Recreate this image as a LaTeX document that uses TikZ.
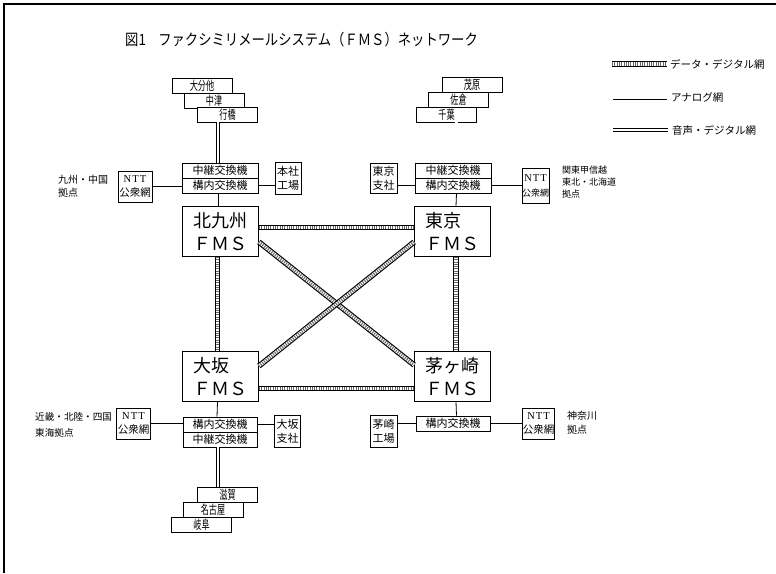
\documentclass[tikz,border=0pt]{standalone}
\usepackage{fontspec}
\setmainfont{Noto Sans CJK JP}
\newfontfamily\narrowjp[FakeStretch=0.65]{Noto Sans CJK JP}
\newfontfamily\titlejp[FakeStretch=0.86]{Noto Sans CJK JP}
\newfontfamily\nttfont[LetterSpace=10]{Liberation Serif}
\usetikzlibrary{calc}
\tikzset{
  frameline/.style={line width=1.2pt},
  box/.style={draw, line width=0.8pt, fill=white, inner sep=0pt, align=center},
  fms/.style={box, minimum width=76pt, minimum height=50pt, align=left, font=\fontsize{18}{23}\selectfont},
  sw/.style={box, minimum width=76pt, minimum height=15pt, font=\fontsize{11}{13}\selectfont},
  stackbox/.style={box, minimum width=60pt, minimum height=15pt, font=\narrowjp\fontsize{12.5}{13}\selectfont},
  sidebox/.style={box, minimum width=26pt, minimum height=32pt, font=\fontsize{11}{14}\selectfont},
  nttbox/.style={box, minimum width=34pt, minimum height=31pt, font=\fontsize{10.5}{14}\selectfont},
  lbl/.style={anchor=west, inner sep=0pt, align=left},
  legtext/.style={anchor=west, inner sep=0pt, font=\fontsize{10.5}{12}\selectfont},
  datalink/.style={line width=5.5pt, draw=black,
     postaction={draw=white, line width=3.2pt},
     postaction={draw=black!60, line width=3.2pt, dash pattern=on 1pt off 1.3pt}},
  analog/.style={line width=0.8pt},
  voice/.style={double, double distance=2.2pt, line width=0.7pt},
}
\begin{document}
\begin{tikzpicture}[x=1pt,y=-1pt]
\useasboundingbox (0,0) rectangle (776,573);
\draw[frameline] (4,573) -- (4,4) -- (776,4);

% title
\node[anchor=west, inner sep=0pt, font=\titlejp\fontsize{15.5}{17}\selectfont] (title) at (125,40)
  {図1\hspace{0.8em}ファクシミリメールシステム（ＦＭＳ）ネットワーク};

% legend
\coordinate (la1) at (612,64); \coordinate (la2) at (667,64);
\draw[datalink] (la1) -- (la2);
\node[legtext] (lta) at (670,64) {データ・デジタル網};
\coordinate (lb1) at (613,99); \coordinate (lb2) at (667,99);
\draw[analog] (lb1) -- (lb2);
\node[legtext] (ltb) at (671,98) {アナログ網};
\coordinate (lc1) at (613,130); \coordinate (lc2) at (668,130);
\draw[voice] (lc1) -- (lc2);
\node[legtext] (ltc) at (672,130) {音声・デジタル網};

% FMS boxes
\node[fms] (kk) at (220.5,231.5) {北九州\\ＦＭＳ};
\node[fms] (tk) at (452.5,231.5) {東京\\ＦＭＳ};
\node[fms] (os) at (220.5,376.5) {大坂\\ＦＭＳ};
\node[fms] (ck) at (452.5,376.5) {茅ヶ崎\\ＦＭＳ};

% data links
\draw[datalink] ([yshift=4pt]kk.east) -- ([yshift=4pt]tk.west);
\draw[datalink] ([yshift=-12pt]os.east) -- ([yshift=-12pt]ck.west);
\draw[datalink] ([xshift=-3pt]kk.south) -- ([xshift=-3pt]os.north);
\draw[datalink] ([xshift=3.5pt]tk.south) -- ([xshift=3.5pt]ck.north);
\draw[datalink] ([yshift=-10.5pt]kk.east) -- ([yshift=11.5pt]ck.west);
\draw[datalink] ([yshift=-10.5pt]tk.west) -- ([yshift=10.5pt]os.east);

% ---- top-left (Kitakyushu)
\node[sw] (kchu) at (220,170.5) {中継交換機};
\node[sw] (kkou) at (220,185.5) {構内交換機};
\node[stackbox] (k1) at (202,85.5) {大分他};
\node[stackbox] (k2) at (214,100.5) {中津};
\node[stackbox] (k3) at (227.5,114.5) {行橋};
\node[nttbox] (knt) at (135,186.5) {{\nttfont NTT}\\公衆網};
\node[sidebox] (khon) at (288,178) {本社\\工場};
\node[lbl, font=\fontsize{10}{13}\selectfont] (klab) at (58,186.5) {九州・中国\\拠点};
\draw[voice] ([xshift=-2pt]kchu.north) -- ([xshift=-2pt]kchu.north |- k3.south);
\draw[analog] ([xshift=-2pt]kkou.south) -- ([xshift=-2pt]kk.north -| kkou.south);
\draw[analog] (knt.east) -- (knt.east -| kkou.west);
\draw[analog] (kkou.east) -- (kkou.east -| khon.west);

% ---- top-right (Tokyo)
\node[sw] (tchu) at (453,170.5) {中継交換機};
\node[sw] (tkou) at (453,185.5) {構内交換機};
\node[stackbox] (t1) at (472,84.5) {茂原};
\node[stackbox] (t2) at (458.5,99.5) {佐倉};
\node[stackbox] (t3) at (446.5,114.5) {千葉};
\node[sidebox, minimum width=27pt, minimum height=30pt] (tsha) at (383.5,178) {東京\\支社};
\node[nttbox, minimum width=27pt, minimum height=35pt, font=\fontsize{9}{15}\selectfont] (tnt) at (535.5,185.5) {{\nttfont\fontsize{10.5}{12}\selectfont NTT}\\公衆網};
\node[lbl, font=\fontsize{9}{12}\selectfont] (tlab) at (562,182) {関東甲信越\\東北・北海道\\拠点};
\draw[voice] ([xshift=3.5pt]tchu.north) -- ([xshift=3.5pt]tchu.north |- t3.south);
\draw[analog] ([xshift=3.5pt]tkou.south) -- ([xshift=3.5pt]tk.north);
\draw[analog] (tsha.east |- tkou.west) -- (tkou.west);
\draw[analog] (tkou.east) -- (tkou.east -| tnt.west);

% ---- bottom-left (Osaka)
\node[sw, minimum width=74pt] (okou) at (220,424.5) {構内交換機};
\node[sw, minimum width=74pt] (ochu) at (220,439.5) {中継交換機};
\node[sidebox] (osha) at (287.5,431) {大坂\\支社};
\node[nttbox] (ont) at (133.5,423.5) {{\nttfont NTT}\\公衆網};
\node[lbl, font=\fontsize{9.6}{16}\selectfont] (olab) at (35,424.5) {近畿・北陸・四国\\東海拠点};
\node[stackbox] (o1) at (227.5,495) {滋賀};
\node[stackbox] (o2) at (213,510) {名古屋};
\node[stackbox] (o3) at (201.5,524.5) {岐阜};
\draw[analog] ([xshift=-3pt]os.south) -- ([xshift=-3pt]okou.north);
\draw[analog] (ont.east) -- (ont.east -| okou.west);
\draw[analog] (okou.east) -- (okou.east -| osha.west);
\draw[voice] ([xshift=-2pt]ochu.south) -- ([xshift=-2pt]ochu.south |- o1.north);

% ---- bottom-right (Chigasaki)
\node[sw, minimum width=74pt] (ckou) at (453,423.5) {構内交換機};
\node[sidebox, minimum width=27pt] (cfac) at (383.5,431) {茅崎\\工場};
\node[nttbox, minimum width=31pt] (cnt) at (538.5,423.5) {{\nttfont NTT}\\公衆網};
\node[lbl, font=\fontsize{10}{14}\selectfont] (clab) at (567,423) {神奈川\\拠点};
\draw[analog] ([xshift=3.5pt]ck.south) -- ([xshift=3.5pt]ckou.north);
\draw[analog] (cfac.east |- ckou.west) -- (ckou.west);
\draw[analog] (ckou.east) -- (ckou.east -| cnt.west);
\end{tikzpicture}
\end{document}
